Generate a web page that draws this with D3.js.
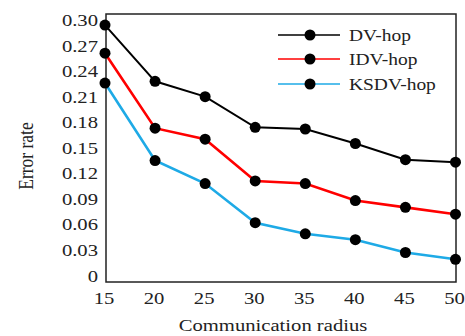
<!DOCTYPE html>
<html>
<head>
<meta charset="utf-8">
<script src="https://cdn.jsdelivr.net/npm/d3@7"></script>
<style>
  html, body { margin: 0; padding: 0; background: #fff; }
  svg { display: block; }
  text { font-family: "Liberation Serif", "Times New Roman", serif; fill: #222; }
</style>
</head>
<body>
<svg id="chart" width="465" height="336"></svg>
<script>
const radius = [15, 20, 25, 30, 35, 40, 45, 50];
const dvHop   = [0.294, 0.228, 0.210, 0.174, 0.172, 0.155, 0.136, 0.133];
const idvHop  = [0.261, 0.173, 0.160, 0.111, 0.108, 0.088, 0.080, 0.072];
const ksdvHop = [0.226, 0.135, 0.108, 0.062, 0.049, 0.042, 0.027, 0.019];
const yTicks  = [0, 0.03, 0.06, 0.09, 0.12, 0.15, 0.18, 0.21, 0.24, 0.27, 0.30];
const seriesNames = ["DV-hop", "IDV-hop", "KSDV-hop"];
const seriesColors = ["#000000", "#ff0000", "#1eaae6"];
const seriesValues = [dvHop, idvHop, ksdvHop];

const svg = d3.select("#chart");
const SX = 1.18; // horizontal stretch of glyphs, as in the reference

const frame = { left: 106, top: 14, right: 456, bottom: 282 };
const x = d3.scaleLinear().domain([15, 50]).range([105, 455.5]);
const y = d3.scaleLinear().domain([0, 0.30]).range([275.5, 20]);

// frame
svg.append("rect")
  .attr("x", frame.left).attr("y", frame.top)
  .attr("width", frame.right - frame.left).attr("height", frame.bottom - frame.top)
  .attr("fill", "none").attr("stroke", "#222").attr("stroke-width", 1.5);

// y tick labels
svg.append("g").selectAll("text").data(yTicks).join("text")
  .attr("text-anchor", "end")
  .attr("font-size", 17.5)
  .attr("transform", d => `translate(98,${y(d) + 6}) scale(${SX},1)`)
  .text(d => d === 0 ? "0" : d3.format(".2f")(d));

// x tick labels
svg.append("g").selectAll("text").data(radius).join("text")
  .attr("text-anchor", "middle")
  .attr("font-size", 17.5)
  .attr("transform", d => `translate(${x(d) - 1},304) scale(${SX},1)`)
  .text(d => d);

// axis titles
svg.append("text")
  .attr("text-anchor", "middle")
  .attr("font-size", 17.5)
  .attr("transform", `translate(273,331) scale(${SX},1)`)
  .text("Communication radius");

svg.append("text")
  .attr("text-anchor", "middle")
  .attr("font-size", 17.5)
  .attr("transform", `translate(33,156) scale(${SX},1) rotate(-90)`)
  .text("Error rate");

// series
const line = d3.line().x((d, i) => x(radius[i])).y(d => y(d));
seriesValues.forEach((vals, s) => {
  svg.append("path")
    .datum(vals)
    .attr("d", line)
    .attr("fill", "none")
    .attr("stroke", seriesColors[s])
    .attr("stroke-width", s === 0 ? 2 : 2.6);
});
seriesValues.forEach((vals, s) => {
  svg.append("g").selectAll("circle").data(vals).join("circle")
    .attr("cx", (d, i) => x(radius[i]))
    .attr("cy", d => y(d))
    .attr("r", 5.5)
    .attr("fill", "#000");
});

// legend
const legY = [35, 59, 84];
const leg = svg.append("g").selectAll("g").data(seriesNames).join("g")
  .attr("transform", (d, i) => `translate(0,${legY[i]})`);
leg.append("line")
  .attr("x1", 278).attr("x2", 340).attr("y1", 0).attr("y2", 0)
  .attr("stroke", (d, i) => seriesColors[i]).attr("stroke-width", 1.3);
leg.append("circle").attr("cx", 310).attr("cy", 0).attr("r", 5.5).attr("fill", "#000");
leg.append("text")
  .attr("font-size", 16.5)
  .attr("transform", `translate(349,6) scale(${SX},1)`)
  .text(d => d);
</script>
</body>
</html>
